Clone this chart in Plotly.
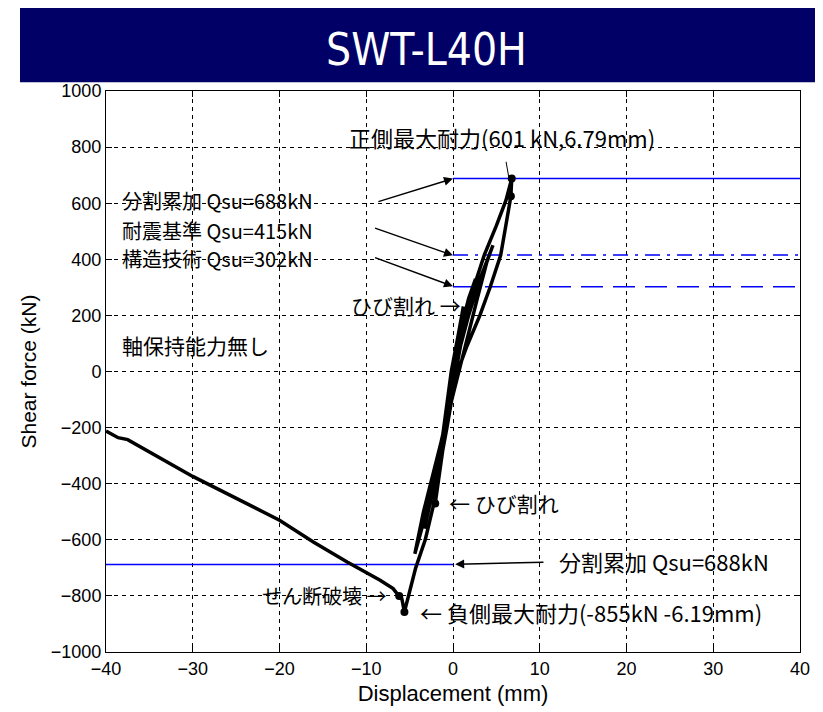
import plotly.graph_objects as go

# ---------------- data ----------------
disp = [0, 0.5, 1.2, 0.6, -0.2, -0.9, -1.5, -2.05,
        -1.4, -0.6, 0.1, 0.9, 1.8, 2.6,
        2.0, 1.1, 0.0, -0.9, -2.0, -3.0, -3.3,
        -2.5, -1.4, -0.4, 0.6, 1.8, 3.0, 4.0, 4.6,
        3.9, 2.8, 1.5, 0.2, -1.2, -2.4, -3.4, -4.2, -4.4,
        -3.6, -2.4, -1.0, 0.2, 1.4, 2.4, 3.6, 5.0, 6.1, 6.77,
        6.67, 6.2, 5.5, 4.3, 3.1, 1.6, 0.3, -0.7, -1.6, -2.2, -3.2, -4.3, -5.0, -5.4, -5.6,
        -5.9, -6.3, -6.9, -8.4, -12.2, -16.1, -20.0, -30.0, -37.5, -38.6, -40.0]
force = [0, 100, 232, 130, 0, -150, -300, -471,
         -330, -150, 0, 150, 260, 330,
         260, 150, -20, -200, -380, -520, -560,
         -450, -280, -90, 60, 200, 320, 400, 450,
         390, 260, 100, -60, -220, -370, -500, -620, -650,
         -560, -400, -200, -20, 180, 300, 415, 520, 610, 688,
         625, 540, 415, 302, 200, 90, -20, -200, -350, -470, -600, -700, -780, -830, -857,
         -810, -798, -774, -744, -679, -608, -530, -374, -243, -236, -212]

mark_disp = [6.77, 6.67, -2.05, -5.6, -6.2]
mark_force = [688, 625, -471, -857, -800]

ref_levels = [688, 415, 302, -688]
ref_start = [0, 0, 0, -40]
ref_end = [40, 40, 40, 0]
ref_dash = ["solid", "15px,7px,3px,7px", "22px,10px", "solid"]

x_ticks = [-40, -30, -20, -10, 0, 10, 20, 30, 40]
y_ticks = [-1000, -800, -600, -400, -200, 0, 200, 400, 600, 800, 1000]

title_text = "SWT-L40H"
x_title = "Displacement (mm)"
y_title = "Shear force (kN)"

JP = "Noto Sans CJK JP, sans-serif"
LAT = "Liberation Sans, Arial, sans-serif"

fig = go.Figure()

for lvl, xs, xe, d in zip(ref_levels, ref_start, ref_end, ref_dash):
    fig.add_trace(go.Scatter(x=[xs, xe], y=[lvl, lvl], mode="lines",
                             line=dict(color="#0000ff", width=1.5, dash=d),
                             hoverinfo="skip", showlegend=False))

fig.add_trace(go.Scatter(x=disp, y=force, mode="lines",
                         line=dict(color="black", width=3.5),
                         showlegend=False))
fig.add_trace(go.Scatter(x=mark_disp, y=mark_force, mode="markers",
                         marker=dict(color="black", size=8),
                         showlegend=False))

# banner
fig.add_shape(type="rect", xref="paper", yref="paper",
              x0=-0.1239, x1=1.04, y0=1.0155, y1=1.151,
              fillcolor="#000066", line=dict(width=0), layer="below")
# shadow on right frame
fig.add_shape(type="rect", xref="x", yref="y", xsizemode="pixel", xanchor=40,
              x0=1, x1=4, y0=-1000, y1=1000,
              fillcolor="#808080", line=dict(width=0))

ann = []
ann.append(dict(text=title_text, xref="paper", yref="paper", x=0.4625, y=1.0743,
                showarrow=False, xanchor="center", yanchor="middle",
                font=dict(family="Liberation Sans Narrow, DejaVu Sans Condensed, Arial Narrow, sans-serif",
                          size=44, color="white")))

def txt(t, x, y, xa="left", size=21):
    ann.append(dict(text=t, x=x, y=y, xref="x", yref="y", showarrow=False,
                    xanchor=xa, yanchor="middle",
                    font=dict(family=JP, size=size, color="black")))

def arr(x, y, ax, ay, head=2, w=1.5):
    ann.append(dict(text="", x=x, y=y, ax=ax, ay=ay, xref="x", yref="y",
                    axref="x", ayref="y", showarrow=True, arrowhead=head,
                    arrowsize=1.2, arrowwidth=w, arrowcolor="black"))

txt("正側最大耐力(601 kN,6.79mm)", -12.19, 835, size=22)
arr(6.62, 658, 6.09, 753, head=0, w=1)
txt("分割累加 Qsu=688kN", -38.34, 610, size=20)
txt("耐震基準 Qsu=415kN", -38.34, 503, size=20)
txt("構造技術 Qsu=302kN", -38.34, 403, size=20)
arr(0, 688, -8.77, 604)
arr(0, 414, -9.16, 513)
arr(0, 304, -9.16, 408)
txt("ひび割れ →", 1.1, 236, xa="right")
txt("← ひび割れ", -0.67, -470)
txt("軸保持能力無し", -38.34, 93)
txt("分割累加 Qsu=688kN", 12.0, -677, size=22)
arr(0.25, -687, 10.6, -680)
txt("せん断破壊 →", -7.47, -798, xa="right", size=20)
txt("← 負側最大耐力(-855kN -6.19mm)", -4.01, -858, size=22)

axis_common = dict(showline=True, linecolor="black", linewidth=1, mirror="ticks",
                   ticks="inside", ticklen=6, tickcolor="black",
                   showgrid=True, gridcolor="black", gridwidth=1, griddash="4px,4px",
                   zeroline=False, tickfont=dict(family=LAT, size=18, color="black"))

fig.update_xaxes(range=[-40, 40], tickvals=x_ticks, **axis_common,
                 title=dict(text=x_title, font=dict(family=LAT, size=22, color="black"), standoff=8))
fig.update_yaxes(range=[-1000, 1000], tickvals=y_ticks, **axis_common,
                 title=dict(text=y_title, font=dict(family=LAT, size=21, color="black"), standoff=8))

# page body has an 8px margin: figure sized so that it fills the 823x712 window
fig.update_layout(width=815, height=704, margin=dict(l=98, r=23, t=83, b=60, autoexpand=False),
                  plot_bgcolor="white", paper_bgcolor="white", annotations=ann,
                  showlegend=False)

fig.write_html("out.html")
